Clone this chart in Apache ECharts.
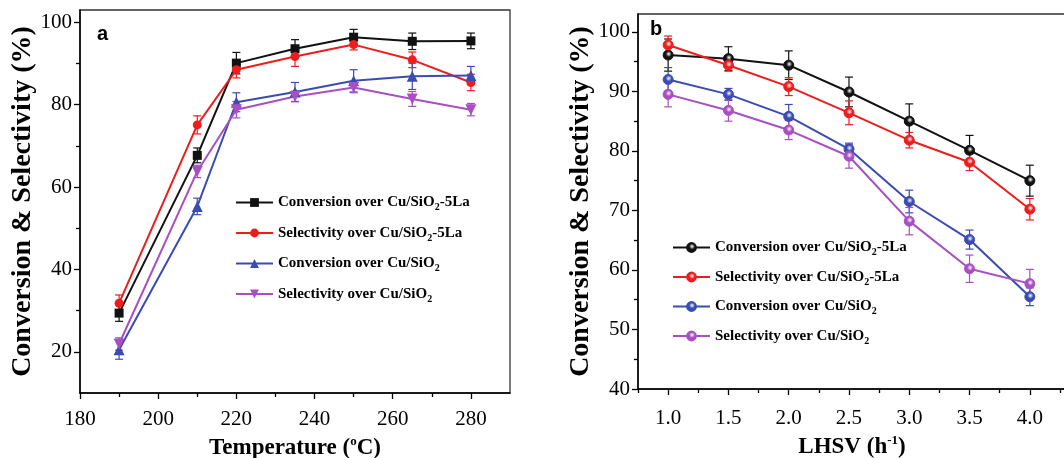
<!DOCTYPE html>
<html lang="en">
<head>
    <meta charset="utf-8">
    <title>Conversion & Selectivity</title>
    <style>
        html, body { margin: 0; padding: 0; background: #fff; }
    </style>
</head>
<body>
    <div id="main" style="width:1064px;height:458px;"></div>
    <script src="https://cdn.jsdelivr.net/npm/echarts@6/dist/echarts.min.js"></script>
    <script type="text/javascript">

    // panel a: temperature
    var tempX = [190, 210, 220, 235, 250, 265, 280];
    var convLaA = [29.4, 67.7, 90.1, 93.6, 96.4, 95.4, 95.5];
    var selLaA  = [31.8, 75.1, 88.5, 91.7, 94.6, 90.9, 85.4];
    var convA   = [20.5, 55.3, 80.6, 83.1, 85.8, 86.9, 87.1];
    var selA    = [21.9, 63.8, 78.8, 82.0, 84.2, 81.4, 78.8];
    var convLaErrA = [2.0, 1.8, 2.6, 2.2, 1.9, 2.0, 1.9];
    var selLaErrA  = [2.0, 2.2, 2.0, 2.4, 1.3, 1.9, 2.0];
    var convErrA   = [2.3, 2.0, 2.3, 2.3, 2.7, 3.2, 2.2];
    var selErrA    = [1.5, 1.5, 2.0, 1.3, 1.3, 1.8, 1.5];
    var tempTicks = [180, 200, 220, 240, 260, 280];
    var tempMinor = [190, 210, 230, 250, 270];
    var yTicksA = [20, 40, 60, 80, 100];
    var yMinorA = [30, 50, 70, 90];

    // panel b: LHSV
    var lhsv = [1.0, 1.5, 2.0, 2.5, 3.0, 3.5, 4.0];
    var convLaB = [96.1, 95.5, 94.4, 89.9, 85.0, 80.1, 75.0];
    var selLaB  = [97.8, 94.4, 90.8, 86.4, 81.8, 78.1, 70.2];
    var convB   = [92.0, 89.5, 85.8, 80.3, 71.5, 65.1, 55.5];
    var selB    = [89.5, 86.8, 83.5, 79.1, 68.2, 60.2, 57.7];
    var convLaErrB = [2.7, 2.0, 2.4, 2.5, 2.9, 2.5, 2.6];
    var selLaErrB  = [1.5, 1.0, 1.5, 2.0, 1.3, 1.4, 1.8];
    var convErrB   = [2.0, 1.0, 2.0, 1.0, 1.9, 1.6, 1.5];
    var selErrB    = [2.1, 1.8, 1.6, 2.0, 2.3, 2.3, 2.4];
    var lhsvTicks = [1.0, 1.5, 2.0, 2.5, 3.0, 3.5, 4.0];
    var lhsvMinor = [0.75, 1.25, 1.75, 2.25, 2.75, 3.25, 3.75, 4.25];
    var yTicksB = [40, 50, 60, 70, 80, 90, 100];
    var yMinorB = [45, 55, 65, 75, 85, 95];

    var names = ['Conversion over Cu/SiO2-5La', 'Selectivity over Cu/SiO2-5La',
                 'Conversion over Cu/SiO2', 'Selectivity over Cu/SiO2'];
    var colors = ['#111111', '#ee1d1d', '#3a4cb4', '#a84fc2'];

    var serif = '"Liberation Serif", "Times New Roman", serif';

    function zip(xs, ys) {
        return xs.map(function (x, i) { return [x, ys[i]]; });
    }
    function errData(xs, ys, es) {
        return xs.map(function (x, i) { return [x, ys[i] - es[i], ys[i] + es[i]]; });
    }
    function errRender(params, api) {
        var x = api.value(0);
        var top = api.coord([x, api.value(2)]);
        var bot = api.coord([x, api.value(1)]);
        var w = 4;
        var st = { stroke: api.visual('color'), lineWidth: 1.2 };
        return {
            type: 'group',
            children: [
                { type: 'line', shape: { x1: top[0], y1: top[1], x2: bot[0], y2: bot[1] }, style: st },
                { type: 'line', shape: { x1: top[0] - w, y1: top[1], x2: top[0] + w, y2: top[1] }, style: st },
                { type: 'line', shape: { x1: bot[0] - w, y1: bot[1], x2: bot[0] + w, y2: bot[1] }, style: st }
            ]
        };
    }
    function ball(c) {
        return {
            type: 'radial', x: 0.55, y: 0.4, r: 0.6,
            colorStops: [{ offset: 0, color: '#ffffff' }, { offset: 0.45, color: c }, { offset: 1, color: c }]
        };
    }

    function xAxisMain(grid, min, max, ticks, name, gap, margin, fmt) {
        return {
            type: 'value', gridIndex: grid, min: min, max: max, position: 'bottom',
            name: name, nameLocation: 'middle', nameGap: gap,
            nameTextStyle: {
                fontFamily: serif, fontWeight: 'bold', fontSize: 23, color: '#000',
                rich: { p: { fontFamily: serif, fontWeight: 'bold', fontSize: 13, padding: [0, 0, 14, 0] } }
            },
            axisLine: { show: true, onZero: false, lineStyle: { color: '#000', width: 1.5 } },
            axisTick: { show: true, inside: false, length: 6, customValues: ticks, lineStyle: { color: '#000', width: 1.3 } },
            axisLabel: { show: true, customValues: ticks, margin: margin, formatter: fmt, fontFamily: serif, fontSize: 21, color: '#000' },
            splitLine: { show: false }
        };
    }
    function xAxisMinor(grid, min, max, ticks) {
        return {
            type: 'value', gridIndex: grid, min: min, max: max, position: 'bottom',
            axisLine: { show: false, onZero: false },
            axisTick: { show: true, inside: false, length: 4, customValues: ticks, lineStyle: { color: '#000', width: 1.3 } },
            axisLabel: { show: false },
            splitLine: { show: false }
        };
    }
    function yAxisMain(grid, min, max, ticks) {
        return {
            type: 'value', gridIndex: grid, min: min, max: max, position: 'left',
            name: 'Conversion & Selectivity (%)', nameLocation: 'middle', nameGap: 41, nameRotate: 90,
            nameTextStyle: { fontFamily: serif, fontWeight: 'bold', fontSize: 28, color: '#000' },
            axisLine: { show: true, onZero: false, lineStyle: { color: '#000', width: 1.5 } },
            axisTick: { show: true, inside: false, length: 6, customValues: ticks, lineStyle: { color: '#000', width: 1.3 } },
            axisLabel: { show: true, customValues: ticks, margin: 8, fontFamily: serif, fontSize: 21, color: '#000' },
            splitLine: { show: false }
        };
    }
    function yAxisMinor(grid, min, max, ticks) {
        return {
            type: 'value', gridIndex: grid, min: min, max: max, position: 'left',
            axisLine: { show: false, onZero: false },
            axisTick: { show: true, inside: false, length: 4, customValues: ticks, lineStyle: { color: '#000', width: 1.3 } },
            axisLabel: { show: false },
            splitLine: { show: false }
        };
    }

    var seriesA = [convLaA, selLaA, convA, selA];
    var errsA = [convLaErrA, selLaErrA, convErrA, selErrA];
    var symbolsA = ['rect', 'circle', 'triangle', 'triangle'];
    var rotA = [0, 0, 0, 180];
    var seriesB = [convLaB, selLaB, convB, selB];
    var errsB = [convLaErrB, selLaErrB, convErrB, selErrB];

    var series = [];
    names.forEach(function (n, i) {
        series.push({
            name: n + ' err', type: 'custom', xAxisIndex: 0, yAxisIndex: 0, z: 2,
            itemStyle: { color: colors[i] }, renderItem: errRender,
            data: errData(tempX, seriesA[i], errsA[i])
        });
        series.push({
            name: n, type: 'line', xAxisIndex: 0, yAxisIndex: 0, z: 3,
            symbol: symbolsA[i], symbolRotate: rotA[i], symbolSize: i >= 2 ? 11 : 9,
            itemStyle: { color: colors[i] }, lineStyle: { color: colors[i], width: 2 },
            data: zip(tempX, seriesA[i])
        });
        series.push({
            name: n + ' err (b)', type: 'custom', xAxisIndex: 2, yAxisIndex: 2, z: 2,
            itemStyle: { color: colors[i] }, renderItem: errRender,
            data: errData(lhsv, seriesB[i], errsB[i])
        });
        series.push({
            name: n + ' (b)', type: 'line', xAxisIndex: 2, yAxisIndex: 2, z: 3,
            symbol: 'circle', symbolSize: 10,
            itemStyle: { color: ball(colors[i]), borderColor: colors[i], borderWidth: 1 },
            lineStyle: { color: colors[i], width: 2 },
            data: zip(lhsv, seriesB[i])
        });
    });

    function legendFmt(name) {
        return name.replace(' (b)', '').replace('SiO2', 'SiO{s|2}');
    }
    var legendText = {
        fontFamily: serif, fontWeight: 'bold', fontSize: 15, color: '#000',
        rich: { s: { fontFamily: serif, fontWeight: 'bold', fontSize: 10, padding: [10, 0, 0, 0] } }
    };

    var myChart = echarts.init(document.getElementById('main'));
    var option = {
        animation: false,
        backgroundColor: '#fff',
        grid: [
            { left: 80, top: 10, width: 430, height: 383, show: true, borderColor: '#333', borderWidth: 1.3, outerBoundsMode: 'none' },
            { left: 638, top: 14, width: 428, height: 375, show: true, borderColor: '#333', borderWidth: 1.3, outerBoundsMode: 'none' }
        ],
        xAxis: [
            xAxisMain(0, 180, 290, tempTicks, 'Temperature ({p|o}C)', 38, 16),
            xAxisMinor(0, 180, 290, tempMinor),
            xAxisMain(1, 0.75, 4.3, lhsvTicks, 'LHSV (h{p|-1})', 45, 19, function (v) { return v.toFixed(1); }),
            xAxisMinor(1, 0.75, 4.3, lhsvMinor)
        ],
        yAxis: [
            yAxisMain(0, 10, 103, yTicksA),
            yAxisMinor(0, 10, 103, yMinorA),
            yAxisMain(1, 40, 103, yTicksB),
            yAxisMinor(1, 40, 103, yMinorB)
        ],
        legend: [
            {
                data: names, orient: 'vertical', left: 230, top: 190,
                itemWidth: 37, itemHeight: 11, itemGap: 13, selectedMode: false,
                formatter: legendFmt, textStyle: legendText
            },
            {
                data: names.map(function (n) { return n + ' (b)'; }), orient: 'vertical', left: 667, top: 235,
                itemWidth: 37, itemHeight: 11, itemGap: 12, selectedMode: false,
                formatter: legendFmt, textStyle: legendText
            }
        ],
        graphic: [
            { type: 'text', left: 97, top: 24, style: { text: 'a', font: 'bold 20px "Liberation Sans", Arial, sans-serif', fill: '#000' } },
            { type: 'text', left: 650, top: 19, style: { text: 'b', font: 'bold 20px "Liberation Sans", Arial, sans-serif', fill: '#000' } }
        ],
        series: series
    };
    myChart.setOption(option);
    </script>
</body>
</html>
